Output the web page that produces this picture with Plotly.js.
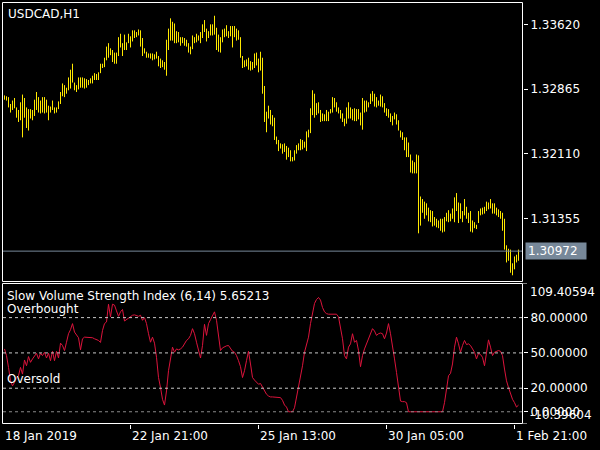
<!DOCTYPE html>
<html>
<head>
<meta charset="utf-8">
<script src="https://cdn.plot.ly/plotly-3.0.1.min.js"></script>
<style>html,body{margin:0;padding:0;background:#000;}#chart{width:600px;height:450px;}</style>
</head>
<body>
<div id="chart"></div>
<script>
// ---- Data (USDCAD H1, bar index 0 = first visible bar) ----
const highs = [
1.3279,1.3278,1.3277,1.3269,1.3273,1.3276,1.3265,1.3262,1.3271,1.3280,
1.3276,1.3265,1.3263,1.3263,1.3262,1.3274,1.3283,1.3277,1.3273,1.3277,
1.3277,1.3274,1.3267,1.3266,1.3273,1.3265,1.3265,1.3272,1.3283,1.3293,
1.3291,1.3288,1.3300,1.3309,1.3316,1.3294,1.3291,1.3300,1.3300,1.3300,
1.3299,1.3298,1.3297,1.3299,1.3302,1.3305,1.3304,1.3306,1.3316,1.3316,
1.3323,1.3336,1.3340,1.3334,1.3332,1.3329,1.3329,1.3347,1.3351,1.3340,
1.3350,1.3341,1.3351,1.3348,1.3355,1.3355,1.3353,1.3356,1.3355,1.3346,
1.3334,1.3330,1.3328,1.3328,1.3328,1.3327,1.3330,1.3325,1.3322,1.3320,
1.3318,1.3344,1.3357,1.3369,1.3365,1.3363,1.3354,1.3353,1.3347,1.3347,
1.3346,1.3344,1.3340,1.3336,1.3349,1.3347,1.3351,1.3349,1.3353,1.3362,
1.3367,1.3357,1.3354,1.3362,1.3362,1.3372,1.3358,1.3350,1.3347,1.3356,
1.3357,1.3361,1.3354,1.3360,1.3360,1.3360,1.3357,1.3355,1.3347,1.3325,
1.3320,1.3321,1.3323,1.3319,1.3318,1.3328,1.3329,1.3322,1.3330,1.3323,
1.3290,1.3260,1.3267,1.3262,1.3256,1.3253,1.3231,1.3227,1.3223,1.3222,
1.3223,1.3220,1.3218,1.3215,1.3207,1.3215,1.3221,1.3223,1.3228,1.3227,
1.3225,1.3237,1.3239,1.3264,1.3285,1.3281,1.3270,1.3271,1.3262,1.3258,
1.3257,1.3262,1.3260,1.3263,1.3277,1.3276,1.3271,1.3265,1.3262,1.3258,
1.3252,1.3265,1.3271,1.3265,1.3263,1.3264,1.3263,1.3263,1.3259,1.3276,
1.3273,1.3273,1.3271,1.3281,1.3284,1.3281,1.3277,1.3273,1.3280,1.3278,
1.3270,1.3264,1.3263,1.3258,1.3255,1.3259,1.3257,1.3250,1.3238,1.3236,
1.3230,1.3230,1.3224,1.3210,1.3203,1.3201,1.3210,1.3209,1.3161,1.3158,
1.3155,1.3153,1.3148,1.3145,1.3144,1.3137,1.3135,1.3133,1.3135,1.3135,
1.3137,1.3142,1.3145,1.3141,1.3147,1.3160,1.3165,1.3154,1.3153,1.3144,
1.3158,1.3149,1.3142,1.3144,1.3133,1.3131,1.3128,1.3144,1.3147,1.3148,
1.3149,1.3155,1.3154,1.3158,1.3153,1.3153,1.3148,1.3146,1.3144,1.3142,
1.3135,1.3104,1.3100,1.3099,1.3083,1.3091,1.3093,1.3099
];
const lows = [
1.3274,1.3273,1.3265,1.3259,1.3262,1.3264,1.3253,1.3248,1.3250,1.3230,
1.3253,1.3241,1.3238,1.3252,1.3250,1.3255,1.3262,1.3259,1.3258,1.3259,
1.3258,1.3259,1.3250,1.3259,1.3262,1.3258,1.3259,1.3263,1.3269,1.3278,
1.3277,1.3281,1.3285,1.3287,1.3294,1.3285,1.3283,1.3286,1.3288,1.3288,
1.3287,1.3288,1.3291,1.3293,1.3293,1.3297,1.3297,1.3297,1.3305,1.3311,
1.3312,1.3320,1.3323,1.3326,1.3318,1.3316,1.3316,1.3325,1.3335,1.3325,
1.3332,1.3332,1.3340,1.3335,1.3342,1.3346,1.3347,1.3349,1.3336,1.3325,
1.3328,1.3323,1.3323,1.3322,1.3320,1.3321,1.3322,1.3313,1.3311,1.3312,
1.3309,1.3302,1.3332,1.3343,1.3343,1.3340,1.3340,1.3341,1.3337,1.3340,
1.3337,1.3336,1.3329,1.3327,1.3333,1.3340,1.3341,1.3343,1.3340,1.3346,
1.3353,1.3342,1.3346,1.3349,1.3349,1.3350,1.3332,1.3330,1.3329,1.3341,
1.3347,1.3348,1.3346,1.3348,1.3335,1.3347,1.3343,1.3344,1.3323,1.3311,
1.3312,1.3313,1.3309,1.3308,1.3309,1.3311,1.3314,1.3306,1.3308,1.3281,
1.3248,1.3236,1.3252,1.3245,1.3243,1.3227,1.3222,1.3214,1.3217,1.3211,
1.3213,1.3204,1.3207,1.3202,1.3202,1.3203,1.3211,1.3215,1.3215,1.3216,
1.3218,1.3214,1.3230,1.3235,1.3256,1.3253,1.3256,1.3258,1.3248,1.3249,
1.3249,1.3249,1.3249,1.3258,1.3259,1.3265,1.3260,1.3258,1.3252,1.3248,
1.3243,1.3246,1.3252,1.3252,1.3250,1.3249,1.3249,1.3251,1.3244,1.3239,
1.3259,1.3260,1.3265,1.3269,1.3272,1.3266,1.3265,1.3267,1.3266,1.3265,
1.3259,1.3255,1.3253,1.3248,1.3244,1.3251,1.3245,1.3238,1.3230,1.3227,
1.3215,1.3207,1.3207,1.3189,1.3188,1.3188,1.3188,1.3118,1.3127,1.3142,
1.3135,1.3139,1.3132,1.3131,1.3126,1.3127,1.3125,1.3124,1.3121,1.3119,
1.3120,1.3132,1.3131,1.3132,1.3135,1.3131,1.3144,1.3130,1.3135,1.3131,
1.3139,1.3135,1.3130,1.3120,1.3119,1.3124,1.3123,1.3130,1.3139,1.3140,
1.3141,1.3144,1.3146,1.3147,1.3141,1.3141,1.3139,1.3137,1.3135,1.3121,
1.3099,1.3084,1.3086,1.3072,1.3069,1.3076,1.3084,1.3086
];
const svsi = [
53.4,47.7,37.7,26.3,22.0,24.9,29.1,30.6,37.7,32.0,
44.0,39.1,46.9,42.0,44.9,46.9,49.7,44.9,49.7,47.7,
50.6,45.7,49.7,43.4,51.4,43.4,51.4,45.7,58.3,56.3,
52.0,59.1,66.3,69.7,74.9,67.7,65.7,62.9,52.6,62.0,
63.4,63.4,63.4,62.9,62.9,62.0,61.1,60.6,58.9,69.1,
74.9,76.3,91.4,80.6,91.4,90.6,85.7,81.1,84.9,86.9,
77.1,78.3,80.0,81.1,82.0,82.3,81.7,81.1,82.0,77.7,
80.0,74.9,66.3,59.1,63.4,58.3,46.3,29.1,20.6,10.6,
5.7,17.7,34.9,46.3,54.9,50.6,53.4,52.6,53.4,54.9,
57.7,60.6,62.0,64.9,70.6,66.3,59.1,53.4,45.7,56.3,
74.3,64.9,74.9,78.3,81.1,84.9,77.7,64.9,52.0,54.3,
55.4,56.0,56.3,53.4,51.4,50.6,47.7,43.4,38.3,29.1,
34.9,43.4,51.4,40.6,29.1,26.9,24.9,23.4,24.0,21.1,
17.7,14.9,13.4,12.6,12.6,12.6,12.0,12.0,12.0,9.7,
5.7,4.0,0,0,0,3.4,12.0,20.6,29.1,39.1,
50.6,58.3,63.4,74.9,84.9,92.0,95.4,97.1,94.9,88.6,
84.9,83.4,82.9,82.9,82.9,82.9,82.9,80.6,72.0,62.0,
47.7,44.9,54.9,57.7,66.3,59.1,60.6,52.0,38.3,47.7,
53.4,57.7,62.0,66.3,70.6,68.6,64.9,66.3,66.9,66.3,
62.0,66.9,74.9,66.3,53.4,44.9,33.4,20.6,9.1,8.6,
8.6,7.7,0,0,0,0,0,0,0,0,
0,0,0,0,0,0,0,0,0,0,
7.7,20.6,30.6,32.6,40.6,54.9,63.4,57.7,50.6,56.3,
60.6,57.1,57.7,56.3,53.4,50.6,44.9,49.7,48.6,46.3,
39.1,50.6,61.1,54.9,47.7,50.6,51.4,52.0,51.4,47.7,
36.3,26.3,20.6,14.9,10.6,7.7,4.0,5.65213
];
const timeTickIndex = [-1, 63, 127, 191, 255];
const timeTickLabels = ['18 Jan 2019', '22 Jan 21:00', '25 Jan 13:00', '30 Jan 05:00', '1 Feb 21:00'];
const priceTicks = [1.31355, 1.32110, 1.32865, 1.33620];
const levelTicks = [0, 20, 50, 80];
const lastPrice = 1.30972;
const indMax = 109.40594, indMin = -10.39604;
const indLabel = 'Slow Volume Strength Index (6,14) 5.65213';

// ---- geometry helpers (pixel -> paper) ----
const PL = 2, PR = 523, PT = 2, PB = 424;
const px = v => (v - PL) / (PR - PL);
const py = v => (PB - v) / (PB - PT);

const FONT = 'DejaVu Sans';
const WHITE = '#ffffff';

const bx = [], by = [];
for (let i = 0; i < highs.length; i++) {
  bx.push(i, i, null);
  by.push(lows[i], highs[i], null);
}
const idx = svsi.map((_, i) => i);

const traces = [
  {type: 'scatter', mode: 'lines', x: bx, y: by, xaxis: 'x', yaxis: 'y',
   line: {color: '#FFE800', width: 1}, hoverinfo: 'skip', connectgaps: false},
  {type: 'scatter', mode: 'lines', x: idx, y: svsi, xaxis: 'x', yaxis: 'y2',
   line: {color: '#DC143C', width: 1}, hoverinfo: 'skip'}
];

const shapes = [];
// pane borders
shapes.push({type: 'rect', xref: 'paper', yref: 'paper', x0: px(2.5), x1: px(522.5), y0: py(281.5), y1: py(2.5), line: {color: WHITE, width: 1}});
shapes.push({type: 'rect', xref: 'paper', yref: 'paper', x0: px(2.5), x1: px(522.5), y0: py(423.5), y1: py(283.5), line: {color: WHITE, width: 1}});
// current price line
shapes.push({type: 'line', xref: 'paper', yref: 'y', x0: px(3), x1: px(522), y0: lastPrice, y1: lastPrice, line: {color: '#778899', width: 1}});
// indicator levels
levelTicks.forEach(v => {
  shapes.push({type: 'line', xref: 'paper', yref: 'y2', x0: px(3), x1: px(522), y0: v, y1: v,
    line: {color: v === 0 ? '#8a8a8a' : '#c8c8c8', width: 1, dash: '3px,3px'}});
});
// extreme ticks of indicator scale
[indMax, indMin].forEach(v => {
  shapes.push({type: 'line', xref: 'paper', yref: 'y2', x0: px(523), x1: px(527), y0: v, y1: v, line: {color: WHITE, width: 1}});
});

const ann = [];
const txt = (text, x, y, opts) => Object.assign({text, x, y, xref: 'paper', yref: 'paper', xanchor: 'left', yanchor: 'middle', showarrow: false,
  font: {family: FONT, size: 12, color: WHITE}}, opts || {});
ann.push(txt('USDCAD,H1', px(6), py(13.5)));
ann.push(txt(indLabel, px(5), py(296)));
ann.push(txt('Overbought', px(5), py(309)));
ann.push(txt('Oversold', px(5), py(379)));
ann.push(txt(indMax.toFixed(5), px(528), py(292.5)));
ann.push(txt(indMin.toFixed(5), px(528), py(415)));
timeTickIndex.forEach((t, k) => {
  ann.push(txt(timeTickLabels[k], t, py(435.5), {xref: 'x', xshift: k === 0 ? 0 : -1}));
});
ann.push({text: lastPrice.toFixed(5), xref: 'paper', yref: 'y', x: px(525), y: lastPrice, xanchor: 'left', yanchor: 'middle',
  showarrow: false, bgcolor: '#778899', borderpad: 2, width: 56, height: 12, align: 'left',
  font: {family: FONT, size: 12, color: WHITE}});

const axFont = {family: FONT, size: 12, color: WHITE};
const layout = {
  width: 600, height: 450,
  margin: {l: PL, r: 600 - PR, t: PT, b: 450 - PB, pad: 0},
  paper_bgcolor: '#000000', plot_bgcolor: '#000000',
  showlegend: false, hovermode: false,
  font: axFont,
  xaxis: {range: [-1.25, 259.25], anchor: 'y2', showgrid: false, zeroline: false, showline: false,
    ticks: 'outside', ticklen: 4, tickcolor: WHITE, tickwidth: 1, tickvals: timeTickIndex.slice(1), showticklabels: false},
  yaxis: {domain: [py(282), 1], range: [1.306117, 1.338807], side: 'right', anchor: 'x',
    showgrid: false, zeroline: false, showline: false, ticks: 'outside', ticklen: 4, tickcolor: WHITE,
    tickvals: priceTicks, ticktext: priceTicks.map(v => v.toFixed(5)), tickfont: axFont},
  yaxis2: {domain: [0, py(283)], range: [indMin, indMax], side: 'right', anchor: 'x',
    showgrid: false, zeroline: false, showline: false, ticks: 'outside', ticklen: 4, tickcolor: WHITE,
    tickvals: levelTicks, ticktext: levelTicks.map(v => v.toFixed(5)), tickfont: axFont},
  shapes: shapes,
  annotations: ann
};

Plotly.newPlot('chart', traces, layout, {staticPlot: true, displayModeBar: false});
</script>
</body>
</html>
